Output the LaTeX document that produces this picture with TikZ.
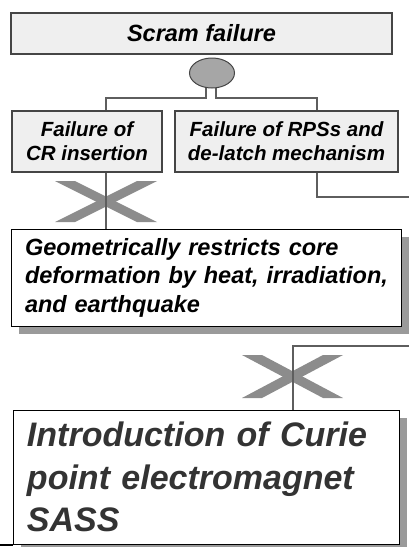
\documentclass[tikz,border=0pt]{standalone}
\usepackage{fontspec}
\setmainfont{Liberation Sans}
\usetikzlibrary{shapes.geometric,shadows}
\pgfdeclarelayer{background}
\pgfsetlayers{background,main}
\definecolor{boxfill}{HTML}{EFEFEF}
\definecolor{boxline}{HTML}{454545}
\definecolor{connline}{HTML}{5E5E5E}
\definecolor{crossgray}{HTML}{8C8C8C}
\definecolor{gatefill}{HTML}{A6A6A6}
\definecolor{darktext}{HTML}{333333}
\definecolor{shadowgray}{HTML}{9A9A9A}
\tikzset{
  greybox/.style={draw=boxline, line width=1.3pt, fill=boxfill, align=center, inner sep=0pt,
    font=\bfseries\itshape\fontsize{20.5}{24}\selectfont},
  whitebox/.style={draw=black, line width=1pt, fill=white, align=left, inner xsep=14pt, inner ysep=0pt,
    drop shadow={shadow xshift=8pt, shadow yshift=-8pt, fill=shadowgray, opacity=1}},
  gate/.style={ellipse, draw=boxline, line width=1pt, fill=gatefill, inner sep=0pt},
  conn/.style={draw=connline, line width=1.8pt},
  crossbar/.style={fill=crossgray, draw=none},
}
\begin{document}
\begin{tikzpicture}[x=1pt, y=-1pt]
\useasboundingbox (0,0) rectangle (409,547);
% nodes
\node[greybox, minimum width=381pt, minimum height=41pt,
  font=\bfseries\itshape\fontsize{23.5}{27}\selectfont] (top) at (201.5,33.5) {Scram failure};
\node[gate, minimum width=45pt, minimum height=30pt] (gate) at (212,73) {};
\node[greybox, minimum width=150pt, minimum height=61pt] (l) at (87,141.5) {Failure of\\CR insertion};
\node[greybox, minimum width=223pt, minimum height=61pt] (r) at (286.5,141.5) {Failure of RPSs and\\de-latch mechanism};
\node[whitebox, minimum width=390pt, minimum height=97pt, text width=362pt,
  font=\bfseries\itshape\fontsize{23.5}{28.5}\selectfont] (m) at (206,277.5)
  {\mbox{Geometrically restricts core}\\\mbox{deformation by heat, irradiation,}\\\mbox{and earthquake}};
\node[whitebox, minimum width=386pt, minimum height=134pt, text width=358pt,
  text=darktext, font=\bfseries\itshape\fontsize{34}{42.5}\selectfont] (b) at (206,477)
  {\mbox{Introduction of Curie}\\\mbox{point electromagnet}\\\mbox{SASS}};
% free ends
\coordinate (jl) at (206,98);
\coordinate (jr) at (216,98);
\coordinate (rout) at (409,197);
\coordinate (bout) at (409,346);
\begin{pgfonlayer}{background}
  % crosses
  \path[crossbar] (55,181) -- (75,181) -- (157,222) -- (137,222) -- cycle;
  \path[crossbar] (137,181) -- (157,181) -- (75,222) -- (55,222) -- cycle;
  \path[crossbar] (242,355) -- (262,355) -- (343,398) -- (323,398) -- cycle;
  \path[crossbar] (323,355) -- (343,355) -- (262,398) -- (242,398) -- cycle;
  % connectors
  \draw[conn] (gate.center -| jl) -- (jl) -| ([xshift=19pt]l.north);
  \draw[conn] (gate.center -| jr) -- (jr) -| ([xshift=30.5pt]r.north);
  \draw[conn] ([xshift=19pt]l.south) -- ([xshift=19pt]l.south |- m.north);
  \draw[conn] ([xshift=30.5pt]r.south) |- (rout);
  \draw[conn] (bout) -| ([xshift=87pt]b.north);
\end{pgfonlayer}
\draw[black, line width=1.2pt] (0,545) -- (b.south west |- 0,545);
\end{tikzpicture}
\end{document}
